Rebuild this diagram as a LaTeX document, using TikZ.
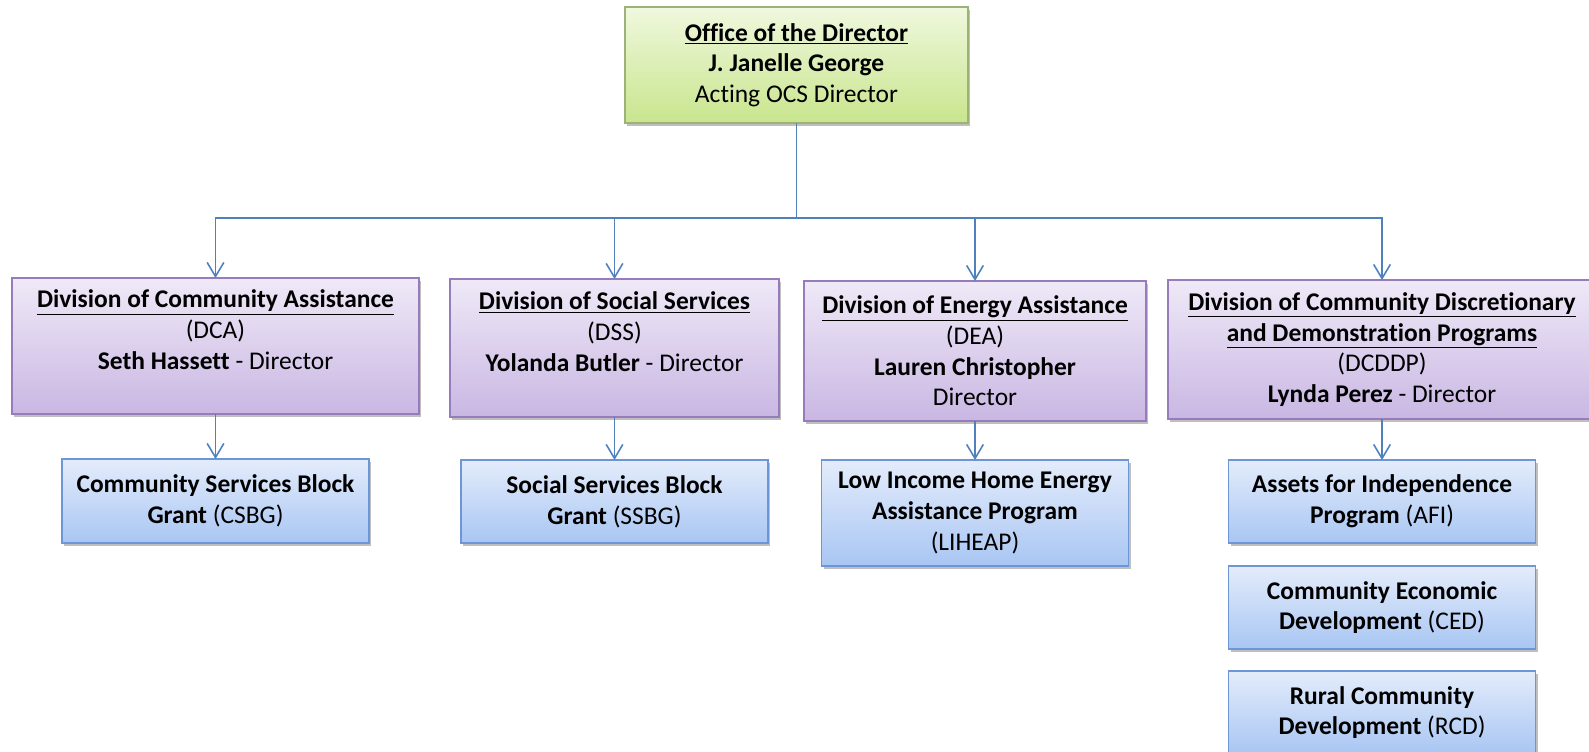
\documentclass[tikz,border=0pt]{standalone}
\usepackage{fontspec}
\setmainfont{Carlito}[Ligatures=NoCommon]
\usepackage{tikz}
\usetikzlibrary{positioning, shadows, arrows.meta}

\definecolor{linkblue}{RGB}{79,129,189}
\definecolor{officetop}{RGB}{240,248,222}
\definecolor{officebot}{RGB}{200,229,141}
\definecolor{officeline}{RGB}{156,178,120}
\definecolor{divtop}{RGB}{239,233,247}
\definecolor{divbot}{RGB}{201,183,227}
\definecolor{divline}{RGB}{150,124,186}
\definecolor{progtop}{RGB}{228,236,251}
\definecolor{progbot}{RGB}{168,198,243}
\definecolor{progline}{RGB}{110,150,212}

\tikzset{
  box/.style={draw, line width=0.8pt, align=center, inner sep=0pt, outer sep=0pt,
    font=\fontsize{14.5}{17.5}\selectfont,
    drop shadow={shadow xshift=1.2pt, shadow yshift=-1.6pt, fill=black, opacity=0.25}},
  officebox/.style={box, draw=officeline, top color=officetop, bottom color=officebot,
    minimum width=6.86cm, minimum height=2.32cm},
  divbox/.style={box, draw=divline, top color=divtop, bottom color=divbot},
  progbox/.style={box, draw=progline, top color=progtop, bottom color=progbot,
    minimum width=6.14cm, minimum height=1.66cm},
  link/.style={draw=linkblue, line width=0.9pt},
  feed/.style={link, -{Straight Barb[length=8pt, width=9.5pt]}}
}

\begin{document}
\begin{tikzpicture}[x=0.02cm, y=-0.02cm]
\clip (0,0) rectangle (1589,751);

% director
\node[officebox] at (796.5,65) (office) {\underline{\textbf{Office of the Director}}\\ \textbf{J. Janelle George}\\ Acting OCS Director};

% divisions
\node[divbox, minimum width=8.14cm, minimum height=2.72cm, text depth=19pt] at (215.5,346) (dca)
  {\underline{\textbf{Division of Community Assistance}}\\ (DCA)\\ \textbf{Seth Hassett} - Director};
\node[divbox, minimum width=6.58cm, minimum height=2.76cm, text depth=19pt] at (614.5,348) (dss)
  {\underline{\textbf{Division of Social Services}}\\ (DSS)\\ \textbf{Yolanda Butler} - Director};
\node[divbox, minimum width=6.84cm, minimum height=2.8cm] at (975,351) (dea)
  {\underline{\textbf{Division of Energy Assistance}}\\ (DEA)\\ \textbf{Lauren Christopher}\\ Director};
\node[divbox, minimum width=8.56cm, minimum height=2.78cm] at (1382,349.5) (dcddp)
  {\underline{\textbf{Division of Community Discretionary}}\\ \underline{\textbf{and Demonstration Programs}}\\ (DCDDP)\\ \textbf{Lynda Perez} - Director};

% programs
\node[progbox, minimum height=1.68cm] at (215.5,501) (csbg) {\textbf{Community Services Block}\\ \textbf{Grant} (CSBG)};
\node[progbox] at (614.5,501.5) (ssbg) {\textbf{Social Services Block}\\ \textbf{Grant} (SSBG)};
\node[progbox, minimum height=2.12cm] at (975,513) (liheap) {\textbf{Low Income Home Energy}\\ \textbf{Assistance Program}\\ (LIHEAP)};
\node[progbox] at (1382,501.5) (afi) {\textbf{Assets for Independence}\\ \textbf{Program} (AFI)};
\node[progbox, below = 0.46cm of afi] (ced) {\textbf{Community Economic}\\ \textbf{Development} (CED)};
\node[progbox, below = 0.44cm of ced] (rcd) {\textbf{Rural Community}\\ \textbf{Development} (RCD)};

% connectors
\coordinate (hub) at (796.5,218);
\draw[link] (office) -- (hub);
\foreach \d in {dca, dss, dea, dcddp}
  \draw[feed] (hub) -| (\d);
\draw[feed] (dca) -- (csbg);
\draw[feed] (dss) -- (ssbg);
\draw[feed] (dea) -- (liheap);
\draw[feed] (dcddp) -- (afi);
\end{tikzpicture}
\end{document}
